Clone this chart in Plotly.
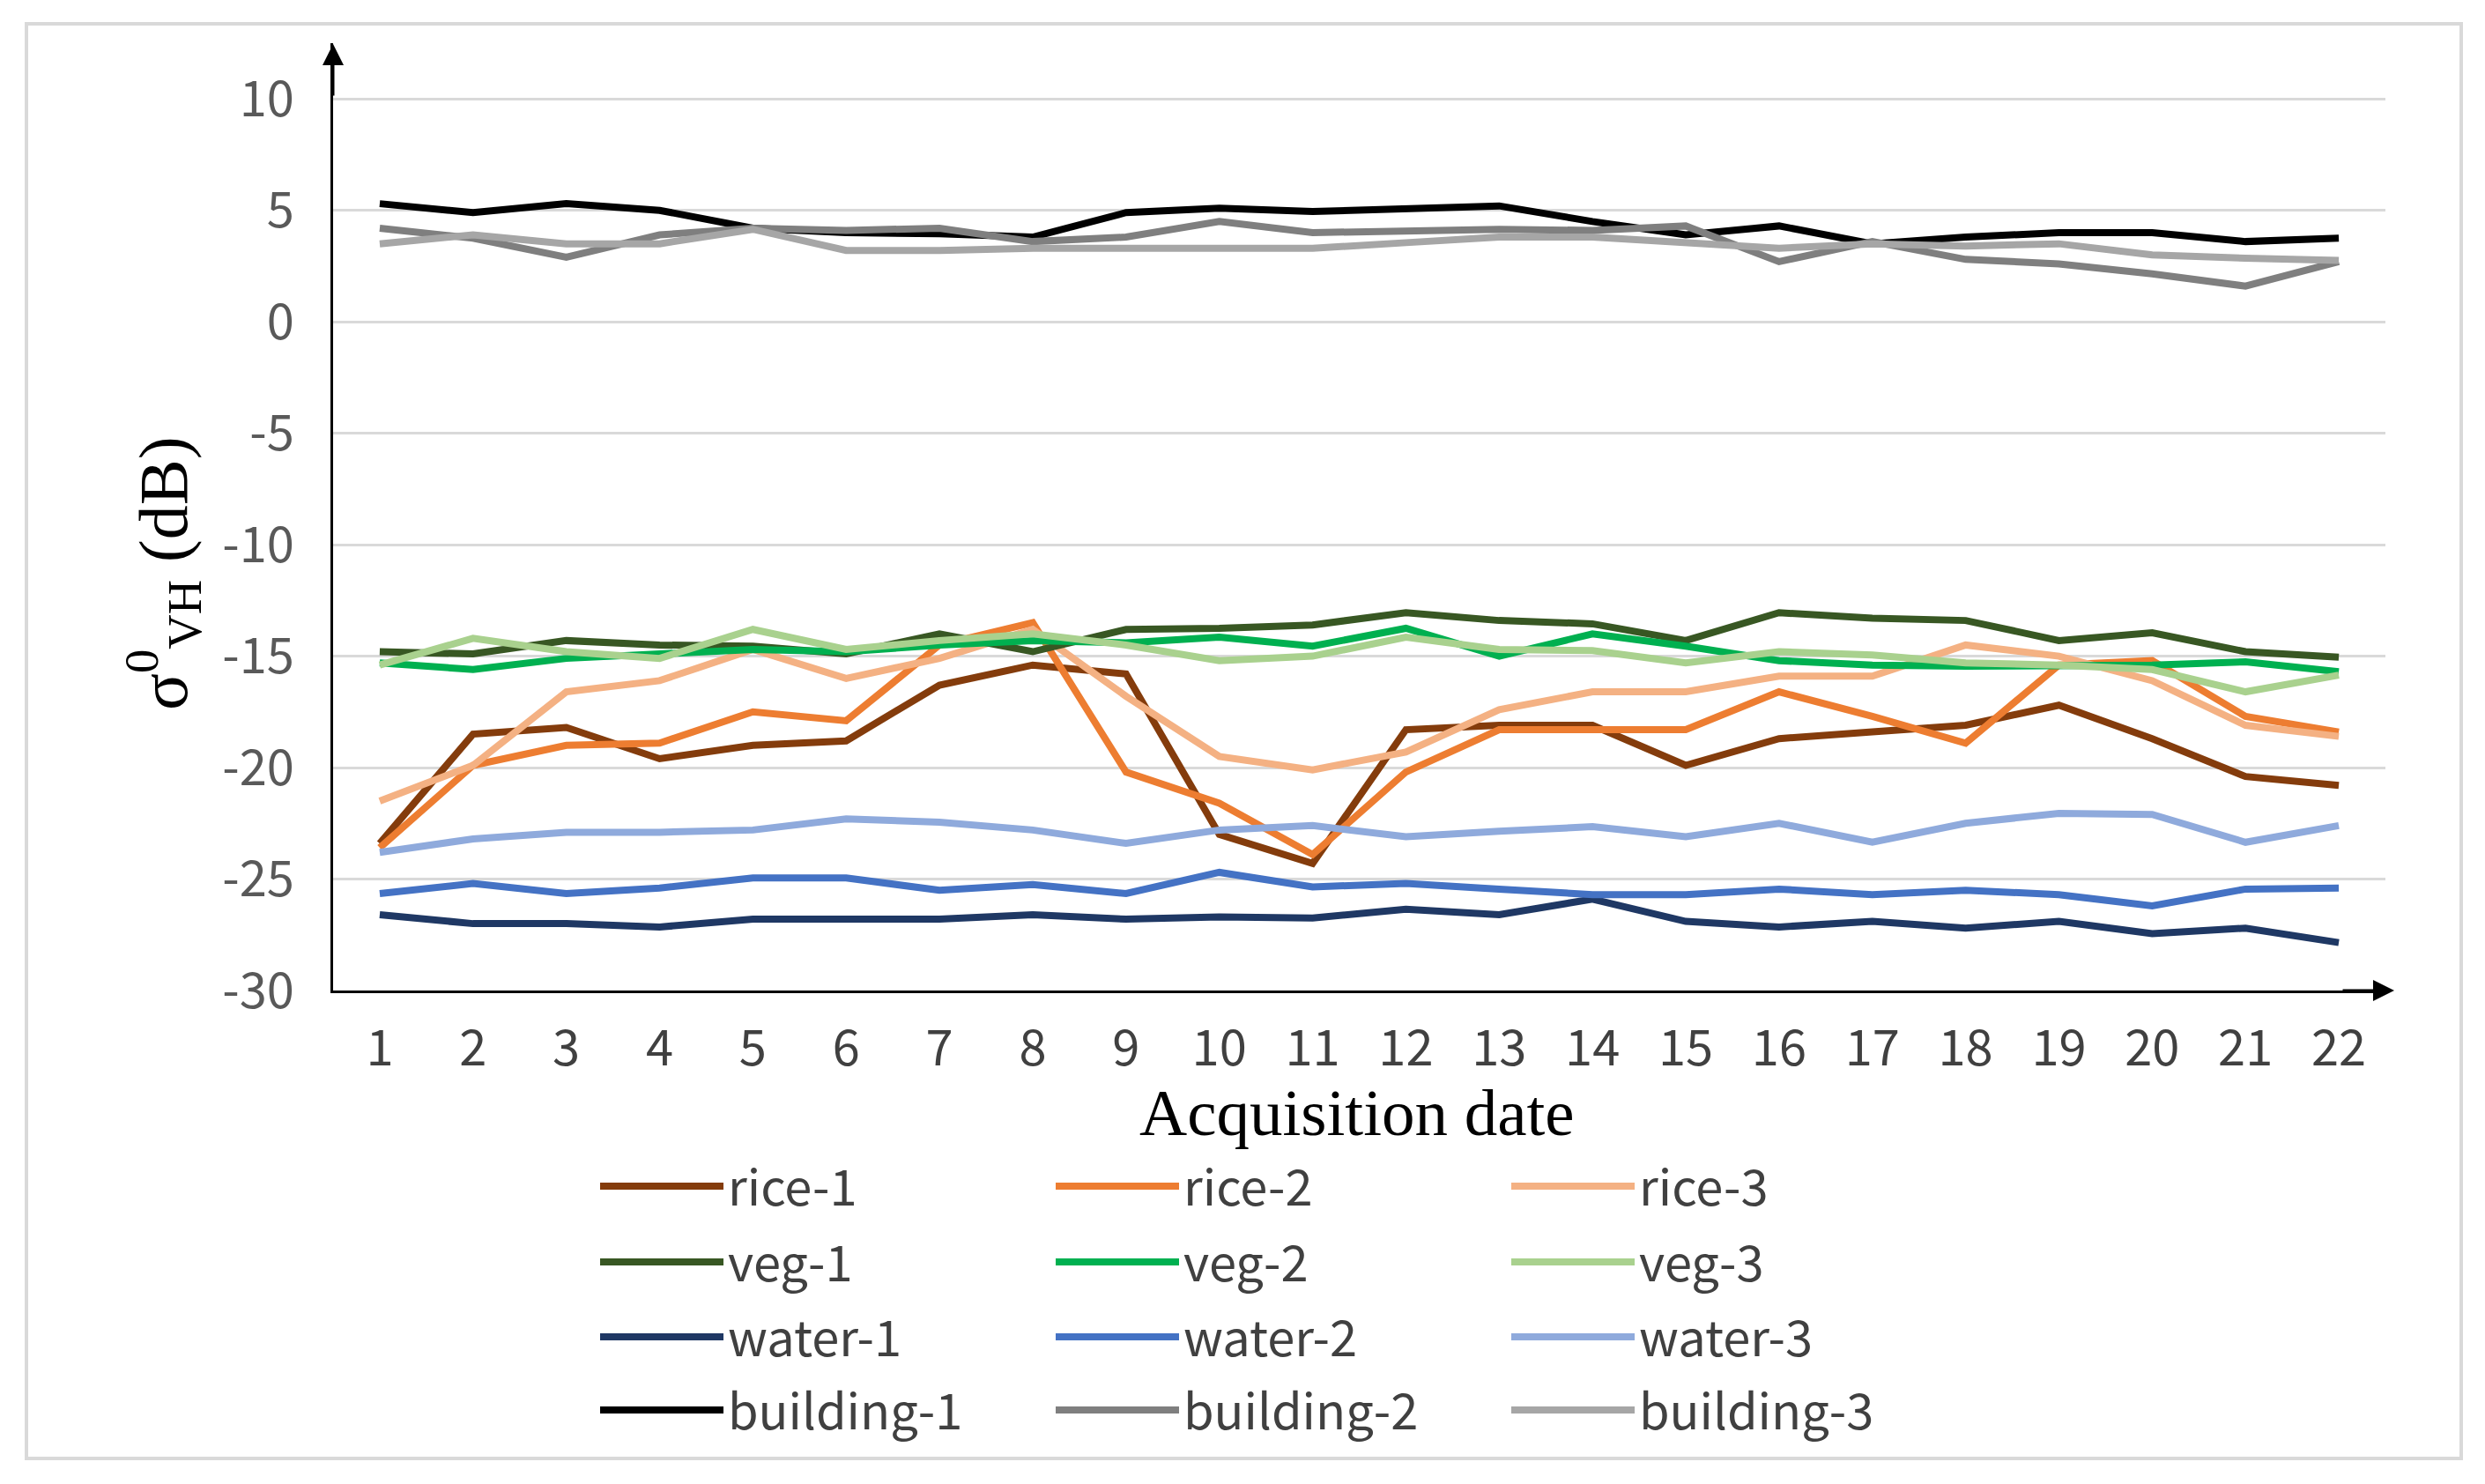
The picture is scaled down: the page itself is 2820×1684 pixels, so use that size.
import plotly.graph_objects as go

dates = list(range(1, 23))

rice1 = [-23.4, -18.5, -18.2, -19.6, -19.0, -18.8, -16.3, -15.4, -15.8, -23.0, -24.3,
         -18.3, -18.1, -18.1, -19.9, -18.7, -18.4, -18.1, -17.2, -18.7, -20.4, -20.8]
rice2 = [-23.6, -19.9, -19.0, -18.9, -17.5, -17.9, -14.5, -13.5, -20.2, -21.6, -23.9,
         -20.2, -18.3, -18.3, -18.3, -16.6, -17.7, -18.9, -15.4, -15.2, -17.7, -18.4]
rice3 = [-21.5, -19.9, -16.6, -16.1, -14.7, -16.0, -15.1, -13.8, -16.8, -19.5, -20.1,
         -19.3, -17.4, -16.6, -16.6, -15.9, -15.9, -14.5, -15.0, -16.1, -18.1, -18.6]
veg1 = [-14.8, -14.9, -14.3, -14.5, -14.55, -14.9, -14.0, -14.8, -13.8, -13.75, -13.6,
        -13.05, -13.4, -13.55, -14.3, -13.05, -13.3, -13.4, -14.3, -13.95, -14.8, -15.05]
veg2 = [-15.3, -15.6, -15.1, -14.9, -14.7, -14.8, -14.5, -14.3, -14.4, -14.15, -14.55,
        -13.75, -15.0, -14.0, -14.55, -15.2, -15.4, -15.45, -15.45, -15.4, -15.25, -15.7]
veg3 = [-15.4, -14.2, -14.8, -15.1, -13.8, -14.7, -14.3, -14.0, -14.5, -15.2, -15.0,
        -14.15, -14.7, -14.75, -15.3, -14.8, -14.95, -15.3, -15.4, -15.6, -16.6, -15.85]
water1 = [-26.6, -27.0, -27.0, -27.15, -26.8, -26.8, -26.8, -26.6, -26.8, -26.7, -26.75,
          -26.35, -26.6, -25.9, -26.9, -27.15, -26.9, -27.2, -26.9, -27.45, -27.2, -27.85]
water2 = [-25.65, -25.2, -25.65, -25.4, -24.95, -24.95, -25.5, -25.25, -25.65, -24.7, -25.35,
          -25.2, -25.45, -25.7, -25.7, -25.45, -25.7, -25.5, -25.7, -26.2, -25.45, -25.4]
water3 = [-23.8, -23.2, -22.9, -22.9, -22.8, -22.3, -22.45, -22.8, -23.4, -22.8, -22.6,
          -23.1, -22.85, -22.65, -23.1, -22.5, -23.35, -22.5, -22.05, -22.1, -23.35, -22.6]
building1 = [5.3, 4.9, 5.3, 5.0, 4.2, 4.0, 3.95, 3.8, 4.9, 5.1, 4.95,
             5.1, 5.2, 4.5, 3.9, 4.3, 3.5, 3.8, 4.0, 4.0, 3.6, 3.75]
building2 = [4.2, 3.75, 2.9, 3.9, 4.2, 4.1, 4.2, 3.6, 3.8, 4.5, 4.0,
             4.1, 4.15, 4.1, 4.3, 2.7, 3.6, 2.8, 2.6, 2.15, 1.6, 2.7]
building3 = [3.5, 3.9, 3.5, 3.5, 4.15, 3.2, 3.2, 3.3, 3.3, 3.3, 3.3,
             3.55, 3.8, 3.8, 3.55, 3.3, 3.5, 3.4, 3.5, 3.0, 2.85, 2.75]

series_names = ["rice-1", "rice-2", "rice-3", "veg-1", "veg-2", "veg-3",
                "water-1", "water-2", "water-3", "building-1", "building-2", "building-3"]
series_values = [rice1, rice2, rice3, veg1, veg2, veg3,
                 water1, water2, water3, building1, building2, building3]
series_colors = ["#843C0C", "#ED7D31", "#F4B183", "#385723", "#00B050", "#A9D18E",
                 "#1F3864", "#4472C4", "#8FAADC", "#000000", "#7F7F7F", "#A6A6A6"]

y_ticks = [-30, -25, -20, -15, -10, -5, 0, 5, 10]
y_ticklabels = ["-30", "-25", "-20", "-15", "-10", "-5", "0", "5", "10"]
x_ticklabels = [str(d) for d in dates]

W, H = 2820, 1684
OFF = 8                     # page body margin of the html page
L, R = 378 - OFF, 2707 - OFF   # plot area x pixels (figure coords)
T, B = 49 - OFF, 1124 - OFF    # plot area y pixels (figure coords)
PW, PH = R - L, B - T

def px(x):
    return (x - OFF - L) / PW

def py(y):
    return (B - (y - OFF)) / PH

SANS = "Noto Sans CJK SC"
SERIF = "Liberation Serif"

fig = go.Figure()
legend_ids = ["legend", "legend2", "legend3", "legend4"]
for i, (name, vals, col) in enumerate(zip(series_names, series_values, series_colors)):
    fig.add_trace(go.Scatter(
        x=dates, y=vals, name=name, mode="lines",
        line=dict(color=col, width=8),
        legend=legend_ids[i // 3],
    ))

row_y = [1346, 1432, 1517, 1600]
legend_common = dict(
    orientation="h", xanchor="left", yanchor="middle",
    entrywidth=362, entrywidthmode="pixels", itemwidth=140,
    font=dict(family=SANS, size=56, color="#404040"),
    bgcolor="rgba(0,0,0,0)", borderwidth=0, tracegroupgap=0,
)
legend_layout = {}
for lid, ry in zip(legend_ids, row_y):
    legend_layout[lid] = dict(legend_common, x=px(676), y=py(ry))

fig.update_layout(
    width=W, height=H,
    margin=dict(l=L, r=W - R, t=T, b=H - B),
    paper_bgcolor="white", plot_bgcolor="white",
    showlegend=True,
    **legend_layout,
    xaxis=dict(
        range=[0.5, 22.5], tickmode="array", tickvals=dates, ticktext=x_ticklabels,
        showgrid=False, zeroline=False, showline=True, linecolor="#000000", linewidth=3,
        ticks="", ticklabelstandoff=15,
        tickfont=dict(family=SANS, size=56, color="#404040"),
    ),
    yaxis=dict(
        range=[-30, 12.5], tickmode="array", tickvals=y_ticks, ticktext=y_ticklabels,
        showgrid=True, gridcolor="#D9D9D9", gridwidth=3, zeroline=False,
        showline=True, linecolor="#000000", linewidth=3,
        ticks="", ticklabelstandoff=30,
        tickfont=dict(family=SANS, size=56, color="#595959"),
    ),
    shapes=[
        dict(type="rect", xref="paper", yref="paper",
             x0=px(30), x1=px(2793), y0=py(1655), y1=py(27),
             line=dict(color="#D9D9D9", width=4), fillcolor="rgba(0,0,0,0)", layer="below"),
    ],
    annotations=[
        dict(text="Acquisition date", xref="paper", yref="paper",
             x=px(1540), y=py(1262), showarrow=False, xanchor="center", yanchor="middle",
             font=dict(family=SERIF, size=75, color="#000000")),
        dict(text="σ<sup>0</sup><sub>VH</sub> (dB)", xref="paper", yref="paper",
             x=px(185), y=py(651), showarrow=False, xanchor="center", yanchor="middle",
             textangle=-90, font=dict(family=SERIF, size=78, color="#000000")),
        dict(text="", xref="paper", yref="paper", x=0, y=py(50), ax=0, ay=60,
             showarrow=True, arrowhead=2, arrowsize=1.6, arrowwidth=3, arrowcolor="#000000"),
        dict(text="", xref="paper", yref="paper", x=px(2717), y=0, ax=-60, ay=0,
             showarrow=True, arrowhead=2, arrowsize=1.6, arrowwidth=3, arrowcolor="#000000"),
    ],
)

fig.write_html("out.html")
